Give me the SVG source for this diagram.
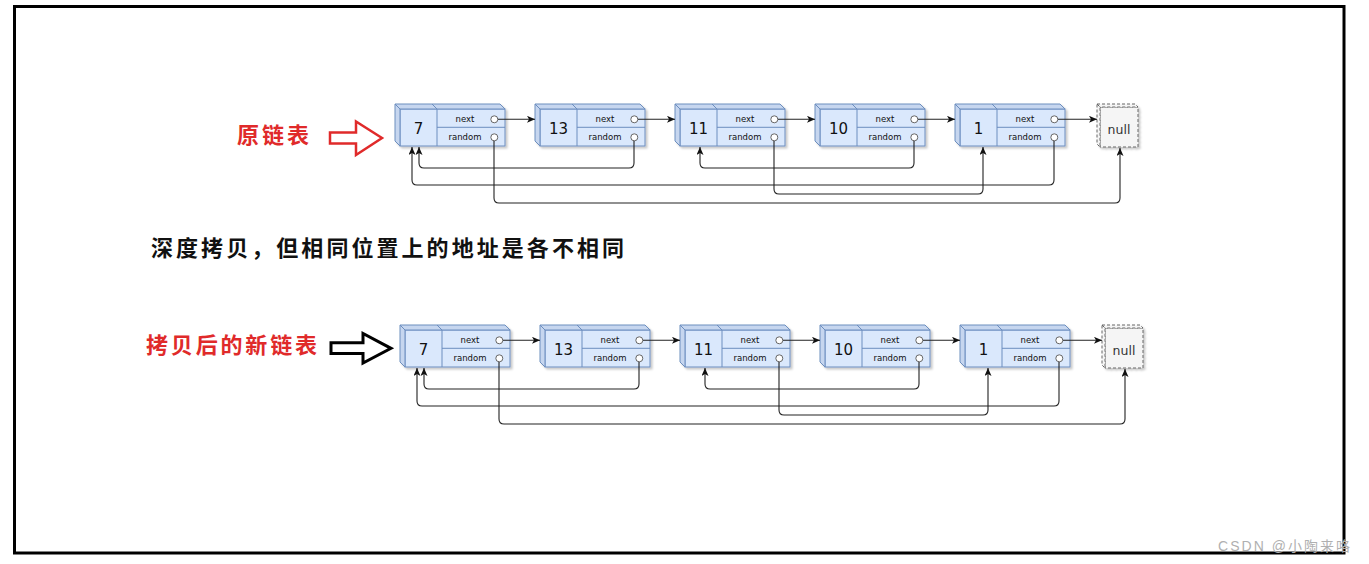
<svg xmlns="http://www.w3.org/2000/svg" xmlns:xlink="http://www.w3.org/1999/xlink" width="1369" height="564" viewBox="0 0 1369 564">
<style>
.face{fill:#dae8fc;stroke:#6c8ebf;stroke-width:1}
.side{fill:#c6d6ef;stroke:#6c8ebf;stroke-width:1}
.ln{fill:none;stroke:#6c8ebf;stroke-width:1}
.port{fill:#fff;stroke:#666;stroke-width:1}
.nf{fill:#f5f5f5;stroke:#666;stroke-width:1;stroke-dasharray:3 2}
.val{font-family:"DejaVu Sans",sans-serif;font-size:15px;fill:#111;text-anchor:middle}
.fld{font-family:"DejaVu Sans",sans-serif;font-size:8.5px;fill:#111;text-anchor:middle}
.nul{font-family:"DejaVu Sans",sans-serif;font-size:12.5px;fill:#333;text-anchor:middle}
.cn{fill:none;stroke:#222;stroke-width:1.1}
.arr{marker-end:url(#ah)}
.lab{font-family:"Noto Sans CJK SC",sans-serif;font-size:22px}
</style>
<defs>
<filter id="sh" x="-10%" y="-10%" width="130%" height="140%">
<feDropShadow dx="2" dy="2" stdDeviation="1.2" flood-color="#000" flood-opacity="0.22"/>
</filter>
<marker id="ah" markerUnits="userSpaceOnUse" markerWidth="9" markerHeight="8" refX="8" refY="3.5" orient="auto">
<path d="M0,0 L8,3.5 L0,7 L2,3.5 Z" fill="#111"/>
</marker>
<g id="cube">
<g filter="url(#sh)">
<rect class="face" x="5" y="5" width="105" height="37"/>
<polygon class="side" points="0,0 105,0 110,5 5,5"/>
<polygon class="side" points="0,0 5,5 5,42 0,37"/>
</g>
<path class="ln" d="M42,5 L37,0 M42,5 V42 M42,23.3 H110"/>
<circle class="port" cx="99.3" cy="15.3" r="3.5"/>
<circle class="port" cx="99.3" cy="33.3" r="3.5"/>
<text class="fld" x="70" y="17.8">next</text>
<text class="fld" x="70" y="35.6">random</text>
</g>
<g id="nullcube">
<g filter="url(#sh)">
<rect class="nf" x="3" y="3" width="38" height="40"/>
<polygon class="nf" points="0,0 38,0 41,3 3,3"/>
<polygon class="nf" points="0,0 3,3 3,43 0,40"/>
</g>
<text class="nul" x="22" y="29.5">null</text>
</g>
</defs>

<rect x="14.5" y="6.5" width="1329.5" height="546.5" fill="#fff" stroke="#000" stroke-width="3"/>

<!-- labels -->
<g id="label-orig">
<text class="lab" x="237" y="143" fill="#e02a2a" font-weight="bold" textLength="72" lengthAdjust="spacing">原链表</text>
<polygon points="330,132.5 356,132.5 356,121.5 382,138 356,155 356,143.5 330,143.5" fill="#fff" stroke="#e02a2a" stroke-width="2.5" stroke-linejoin="miter"/>
</g>
<g id="label-deep">
<text class="lab" x="151" y="256" fill="#111" font-weight="bold" textLength="473" lengthAdjust="spacing">深度拷贝，但相同位置上的地址是各不相同</text>
</g>
<g id="label-copy">
<text class="lab" x="146" y="353" fill="#e02a2a" font-weight="bold" textLength="171" lengthAdjust="spacing">拷贝后的新链表</text>
<polygon points="331,342.7 363,342.7 363,333.5 391,348.3 363,363 363,353.5 331,353.5" fill="#fff" stroke="#000" stroke-width="3" stroke-linejoin="miter"/>
</g>

<!-- top row nodes -->
<g id="t7" transform="translate(395,104)"><use xlink:href="#cube"/><text class="val" x="23.5" y="29.5">7</text></g>
<g id="t13" transform="translate(535,104)"><use xlink:href="#cube"/><text class="val" x="23.5" y="29.5">13</text></g>
<g id="t11" transform="translate(675,104)"><use xlink:href="#cube"/><text class="val" x="23.5" y="29.5">11</text></g>
<g id="t10" transform="translate(815,104)"><use xlink:href="#cube"/><text class="val" x="23.5" y="29.5">10</text></g>
<g id="t1" transform="translate(955,104)"><use xlink:href="#cube"/><text class="val" x="23.5" y="29.5">1</text></g>
<g id="tnull" transform="translate(1097,104)"><use xlink:href="#nullcube"/></g>

<!-- bottom row nodes -->
<g id="b7" transform="translate(400,325)"><use xlink:href="#cube"/><text class="val" x="23.5" y="29.5">7</text></g>
<g id="b13" transform="translate(540,325)"><use xlink:href="#cube"/><text class="val" x="23.5" y="29.5">13</text></g>
<g id="b11" transform="translate(680,325)"><use xlink:href="#cube"/><text class="val" x="23.5" y="29.5">11</text></g>
<g id="b10" transform="translate(820,325)"><use xlink:href="#cube"/><text class="val" x="23.5" y="29.5">10</text></g>
<g id="b1" transform="translate(960,325)"><use xlink:href="#cube"/><text class="val" x="23.5" y="29.5">1</text></g>
<g id="bnull" transform="translate(1102,325)"><use xlink:href="#nullcube"/></g>

<!-- connectors -->
<g id="connectors">
<g id="top-connectors">
<path class="cn arr" d="M498,119.3 H535"/>
<path class="cn arr" d="M638,119.3 H675"/>
<path class="cn arr" d="M778,119.3 H815"/>
<path class="cn arr" d="M918,119.3 H955"/>
<path class="cn arr" d="M1058,119.3 H1097"/>
<path class="cn arr" d="M634,141 V163 Q634,168 629,168 H424 Q419,168 419,163 V147"/>
<path class="cn arr" d="M914,141 V163 Q914,168 909,168 H705 Q700,168 700,163 V147"/>
<path class="cn arr" d="M1054,141 V180 Q1054,185 1049,185 H417 Q412,185 412,180 V147"/>
<path class="cn arr" d="M774,141 V189 Q774,194 779,194 H978 Q983,194 983,189 V147"/>
<path class="cn arr" d="M494,141 V198 Q494,203 499,203 H1115 Q1120,203 1120,198 V148"/>
</g>
<g id="bottom-connectors">
<path class="cn arr" d="M503,340.3 H540"/>
<path class="cn arr" d="M643,340.3 H680"/>
<path class="cn arr" d="M783,340.3 H820"/>
<path class="cn arr" d="M923,340.3 H960"/>
<path class="cn arr" d="M1063,340.3 H1102"/>
<path class="cn arr" d="M639,362 V384 Q639,389 634,389 H429 Q424,389 424,384 V368"/>
<path class="cn arr" d="M919,362 V384 Q919,389 914,389 H710 Q705,389 705,384 V368"/>
<path class="cn arr" d="M1059,362 V401 Q1059,406 1054,406 H422 Q417,406 417,401 V368"/>
<path class="cn arr" d="M779,362 V410 Q779,415 784,415 H983 Q988,415 988,410 V368"/>
<path class="cn arr" d="M499,362 V419 Q499,424 504,424 H1120 Q1125,424 1125,419 V369"/>
</g>
</g>

<text x="1218" y="551" font-family="Liberation Sans, Noto Sans CJK SC, sans-serif" font-size="14" fill="#b0b0b0" textLength="132" lengthAdjust="spacing">CSDN @小陶来咯</text>
</svg>
